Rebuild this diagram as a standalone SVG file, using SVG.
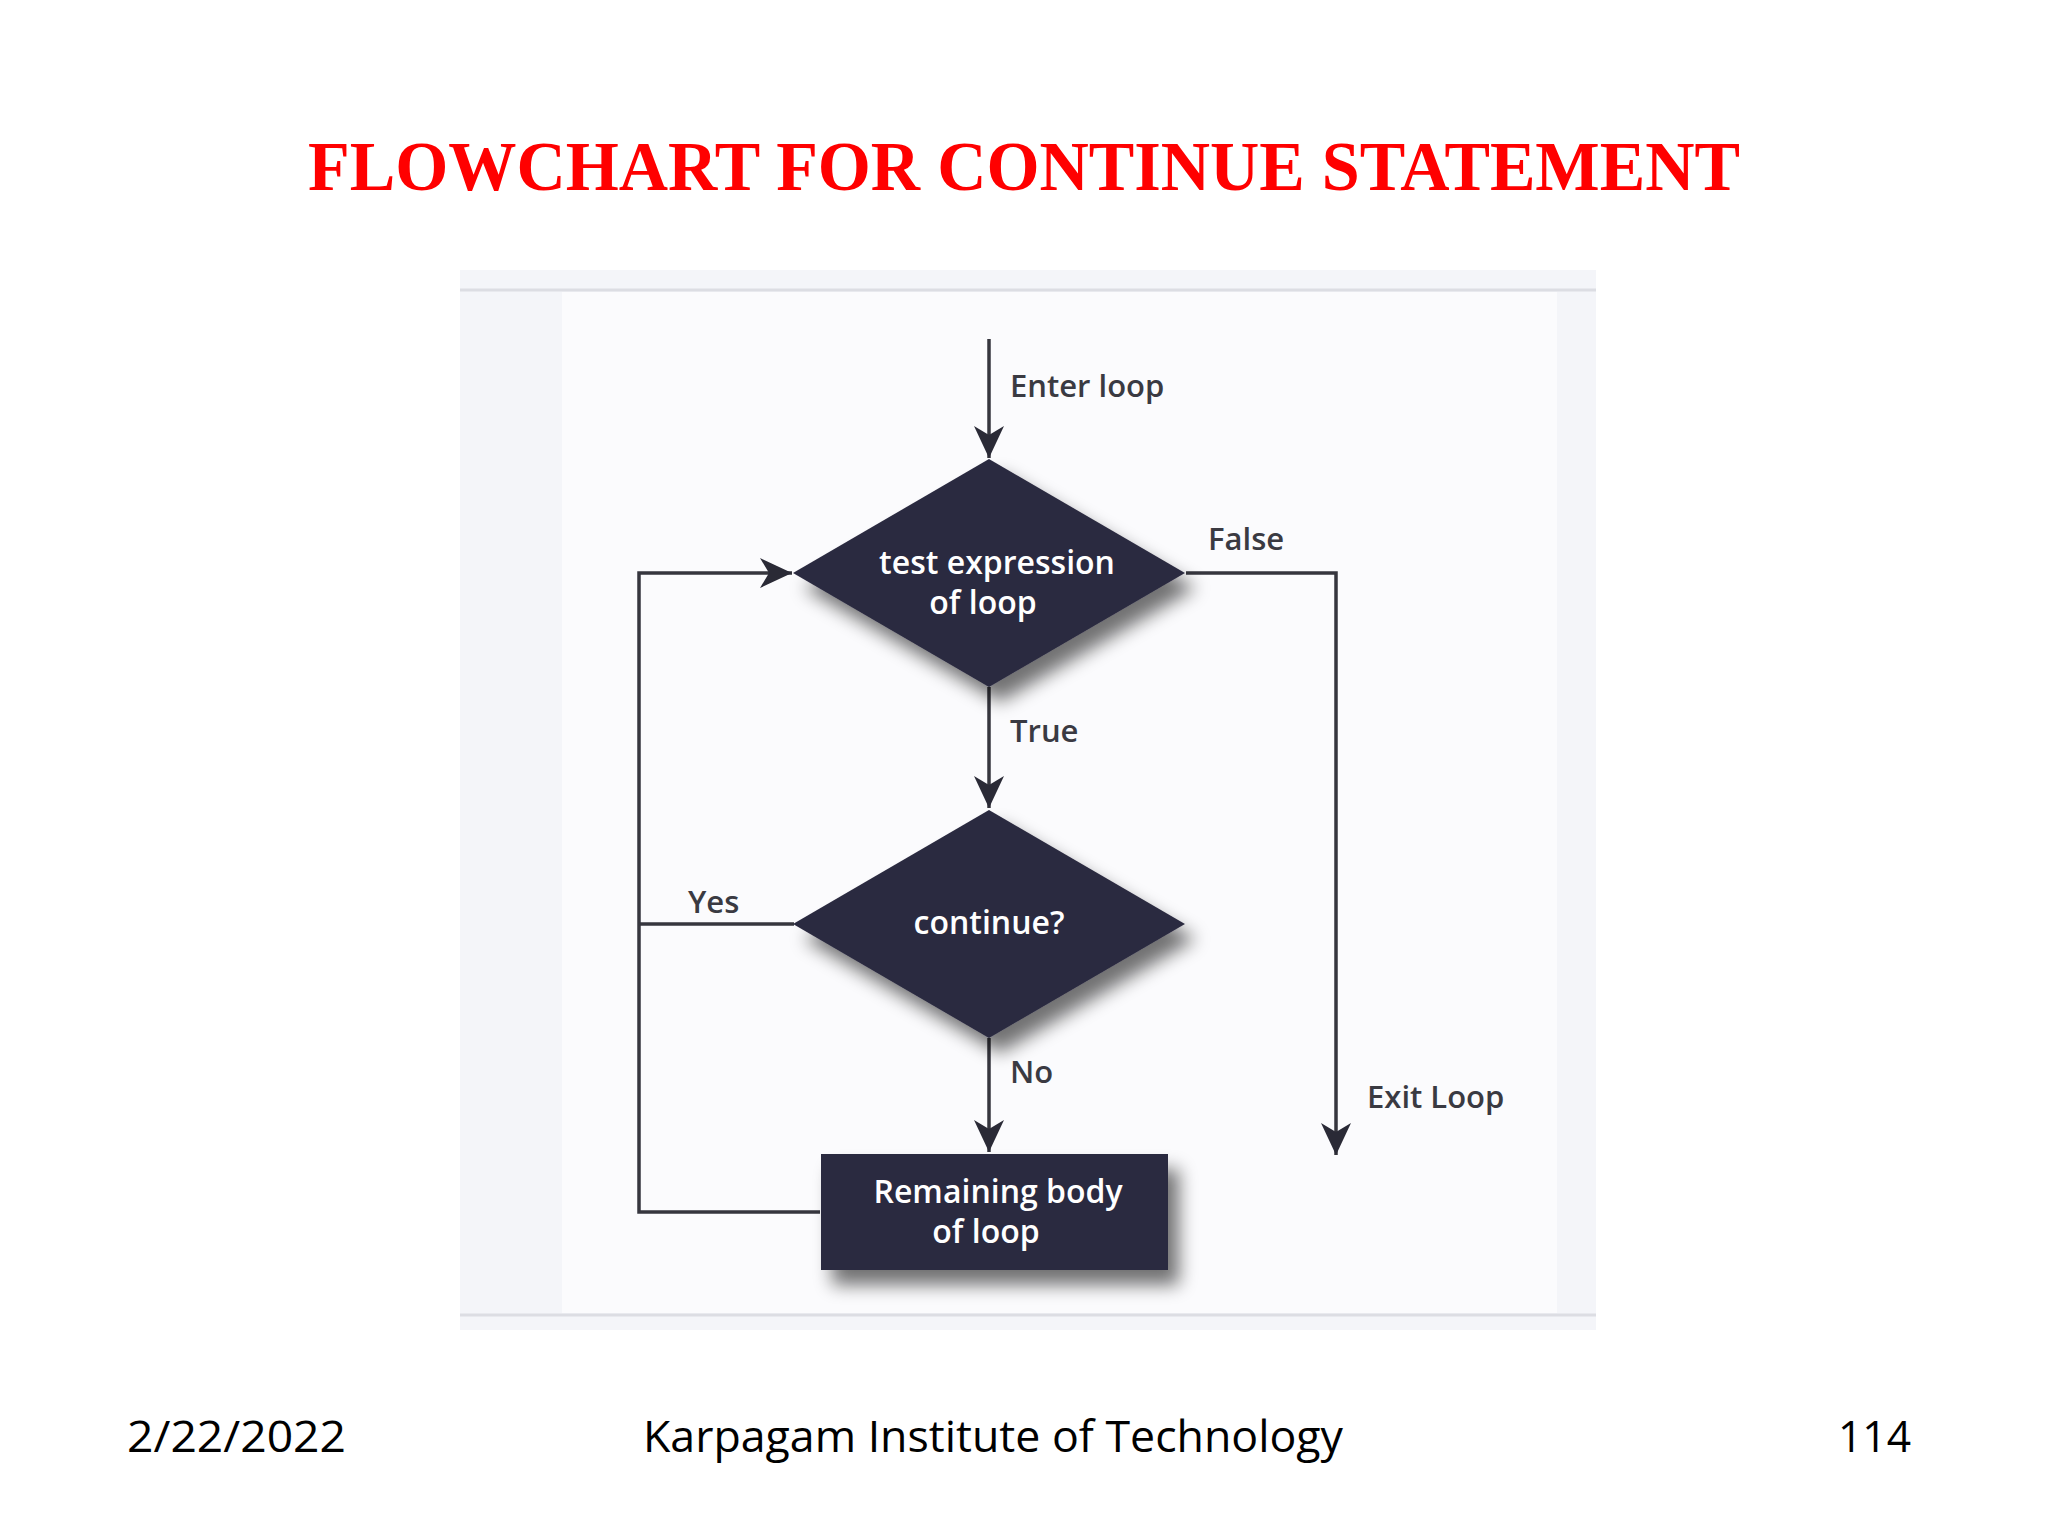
<svg xmlns="http://www.w3.org/2000/svg" width="2048" height="1536" viewBox="0 0 2048 1536">
<style>
.title{font-family:"Liberation Serif","Times New Roman",serif;font-weight:bold;font-size:70px;fill:#ff0000}
.foot{font-family:"Open Sans","Liberation Sans",sans-serif;font-size:44px;fill:#000}
.lbl{font-family:"Open Sans","Liberation Sans",sans-serif;font-weight:600;font-size:31px;fill:#3a3a42}
.in{font-family:"Open Sans","Liberation Sans",sans-serif;font-weight:600;font-size:32px;fill:#ffffff;text-anchor:middle}
.node{fill:#2c2b40}
.conn{fill:none;stroke:#36363e;stroke-width:3.5}
</style>
<defs>
<marker id="arr" viewBox="-32 -16 34 32" refX="0" refY="0" markerWidth="34" markerHeight="32" markerUnits="userSpaceOnUse" orient="auto">
<path d="M0,0 L-32,-15 L-23,0 L-32,15 Z" fill="#2a2a36"/>
</marker>
<filter id="sh" x="-20%" y="-20%" width="150%" height="160%">
<feGaussianBlur in="SourceAlpha" stdDeviation="9"/>
<feOffset dx="11" dy="15" result="b"/>
<feComponentTransfer><feFuncA type="linear" slope="0.55"/></feComponentTransfer>
<feMerge><feMergeNode/><feMergeNode in="SourceGraphic"/></feMerge>
</filter>
</defs>
<rect x="0" y="0" width="2048" height="1536" fill="#ffffff"/>
<text class="title" x="1024" y="190" text-anchor="middle" textLength="1432" lengthAdjust="spacingAndGlyphs">FLOWCHART FOR CONTINUE STATEMENT</text>
<g id="panel">
<rect x="460" y="270" width="1136" height="1060" fill="#f4f5f9"/>
<rect x="562" y="292" width="995" height="1021" fill="#fbfbfd"/>
<line x1="460" y1="290" x2="1596" y2="290" stroke="#dcdde3" stroke-width="3"/>
<line x1="460" y1="1315" x2="1596" y2="1315" stroke="#dcdde3" stroke-width="3"/>
</g>
<g id="connectors">
<line class="conn" x1="989" y1="339" x2="989" y2="458" marker-end="url(#arr)"/>
<line class="conn" x1="989" y1="687" x2="989" y2="808" marker-end="url(#arr)"/>
<line class="conn" x1="989" y1="1038" x2="989" y2="1152" marker-end="url(#arr)"/>
<polyline class="conn" points="1186,573 1336,573 1336,1155" marker-end="url(#arr)"/>
<polyline class="conn" points="820,1212 639,1212 639,573 792,573" marker-end="url(#arr)"/>
<line class="conn" x1="639" y1="924" x2="794" y2="924"/>
</g>
<g id="n1">
<polygon class="node" filter="url(#sh)" points="989,459 1185,573 989,687 793,573"/>
<text class="in" y="574"><tspan x="997">test expression</tspan><tspan x="983" dy="40">of loop</tspan></text>
</g>
<g id="n2">
<polygon class="node" filter="url(#sh)" points="989,810 1185,924 989,1038 793,924"/>
<text class="in" x="989" y="934">continue?</text>
</g>
<g id="n3">
<rect class="node" filter="url(#sh)" x="821" y="1154" width="347" height="116"/>
<text class="in" y="1203"><tspan x="998">Remaining body</tspan><tspan x="986" dy="40">of loop</tspan></text>
</g>
<g id="labels">
<text class="lbl" x="1010" y="397">Enter loop</text>
<text class="lbl" x="1208" y="550">False</text>
<text class="lbl" x="1010" y="742">True</text>
<text class="lbl" x="688" y="913">Yes</text>
<text class="lbl" x="1010" y="1083">No</text>
<text class="lbl" x="1367" y="1108">Exit Loop</text>
</g>
<g id="footer">
<text class="foot" x="127" y="1452" textLength="219" lengthAdjust="spacingAndGlyphs">2/22/2022</text>
<text class="foot" x="643" y="1452" textLength="700" lengthAdjust="spacingAndGlyphs">Karpagam Institute of Technology</text>
<text class="foot" x="1838" y="1452" textLength="73" lengthAdjust="spacingAndGlyphs">114</text>
</g>
</svg>
